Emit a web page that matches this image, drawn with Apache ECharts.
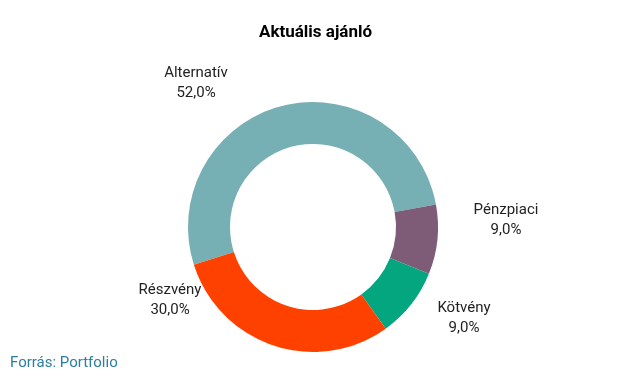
<!DOCTYPE html>
<html>
<head>
<meta charset="utf-8">
<script src="https://cdn.jsdelivr.net/npm/echarts@6/dist/echarts.min.js"></script>
<style>
  html, body { margin: 0; padding: 0; background: #fff; }
  #chart { width: 631px; height: 378px; }
</style>
</head>
<body>
<div id="chart"></div>
<script>
var categories = ['Alternatív', 'Pénzpiaci', 'Kötvény', 'Részvény'];
var values = [52.0, 9.0, 9.0, 30.0];
var colors = ['#76b0b4', '#7e5c78', '#03a67e', '#ff4100'];
// label centres (layout only)
var labelPos = [[196, 83], [506, 220], [464, 318], [170, 300]];

function fmt(v) {
    return v.toFixed(1).replace('.', ',') + '%';
}

var myChart = echarts.init(document.getElementById('chart'));
var option = {
    animation: false,
    title: {
        text: 'Aktuális ajánló',
        left: 'center',
        top: 19,
        textStyle: {
            fontFamily: 'Roboto',
            fontSize: 17,
            fontWeight: 'bold',
            color: '#000'
        }
    },
    graphic: [{
        type: 'text',
        left: 10,
        top: 356,
        style: {
            text: 'Forrás: Portfolio',
            fontFamily: 'Roboto',
            fontSize: 15,
            fill: '#2b7e9e'
        }
    }],
    series: [{
        type: 'pie',
        center: [313, 227],
        radius: [83, 125],
        startAngle: 197.6,
        clockwise: true,
        data: categories.map(function (c, i) {
            return { name: c, value: values[i], itemStyle: { color: colors[i] } };
        }),
        label: {
            show: true,
            position: 'outside',
            fontFamily: 'Roboto',
            fontSize: 15,
            lineHeight: 20,
            color: '#222',
            align: 'center',
            formatter: function (p) {
                return p.name + '\n' + fmt(p.value);
            }
        },
        labelLine: { show: false },
        labelLayout: function (p) {
            var pos = labelPos[p.dataIndex];
            return { x: pos[0], y: pos[1], align: 'center', verticalAlign: 'middle' };
        },
        emphasis: { disabled: true }
    }]
};
myChart.setOption(option);
</script>
</body>
</html>
